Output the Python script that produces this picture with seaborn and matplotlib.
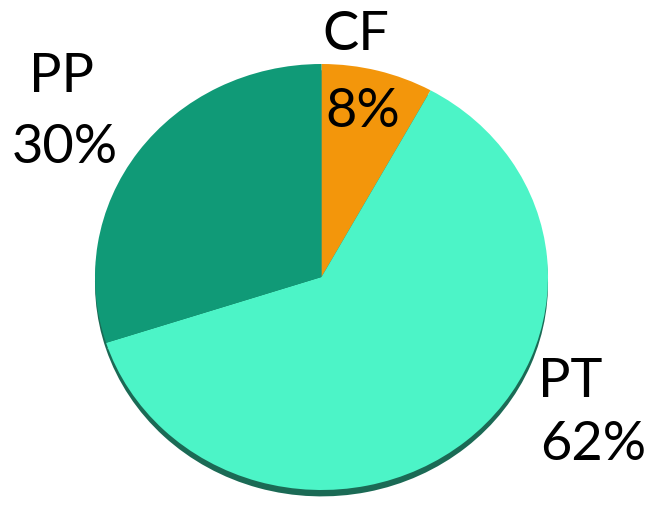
import matplotlib
matplotlib.use("Agg")
import matplotlib.pyplot as plt
import seaborn as sns

categories = ["CF", "PT", "PP"]
values = [8, 62, 30]
colors = ["#F3960B", "#4CF4C7", "#109A77"]
shadow_color = "#1B6A55"

sns.set_theme(style="white")
plt.rcParams["font.family"] = ["Lato", "DejaVu Sans"]

W, H = 646, 507
fig = plt.figure(figsize=(W / 100, H / 100), dpi=100)
fig.patch.set_facecolor("white")

# pie ellipse bbox in pixels (from top-left)
left, right, top, bottom = 95, 548, 64, 490
ax = fig.add_axes([left / W, 1 - bottom / H, (right - left) / W, (bottom - top) / H])

# shadow pie slightly below
ax.pie(values, startangle=90, counterclock=False, colors=[shadow_color] * 3,
       center=(0.0, -0.03), radius=1.0, frame=True,
       wedgeprops=dict(linewidth=0, zorder=1, clip_on=False))
ax.pie(values, startangle=90, counterclock=False, colors=colors,
       center=(0.0, 0.0), radius=1.0, frame=True,
       wedgeprops=dict(linewidth=0, zorder=2, clip_on=False))
ax.set_aspect("auto")
ax.set_xlim(-1, 1)
ax.set_ylim(-1, 1)
ax.axis("off")

fs = 39
# label placement (pixel coords, baseline)
label_pos = {
    "CF": dict(x=322, y1=50, y2=127, ha="left", x2=325),
    "PT": dict(x=538, y1=397, y2=460, ha="left", x2=540),
    "PP": dict(x=62, y1=92, y2=163, ha="center", x2=65),
}
for cat, v in zip(categories, values):
    p = label_pos[cat]
    fig.text(p["x"] / W, 1 - p["y1"] / H, cat, fontsize=fs, color="black",
             ha=p["ha"], va="baseline", zorder=5)
    fig.text(p["x2"] / W, 1 - p["y2"] / H, f"{v}%", fontsize=fs, color="black",
             ha=p["ha"], va="baseline", zorder=5)

fig.savefig("out.png", dpi=100, facecolor="white")
